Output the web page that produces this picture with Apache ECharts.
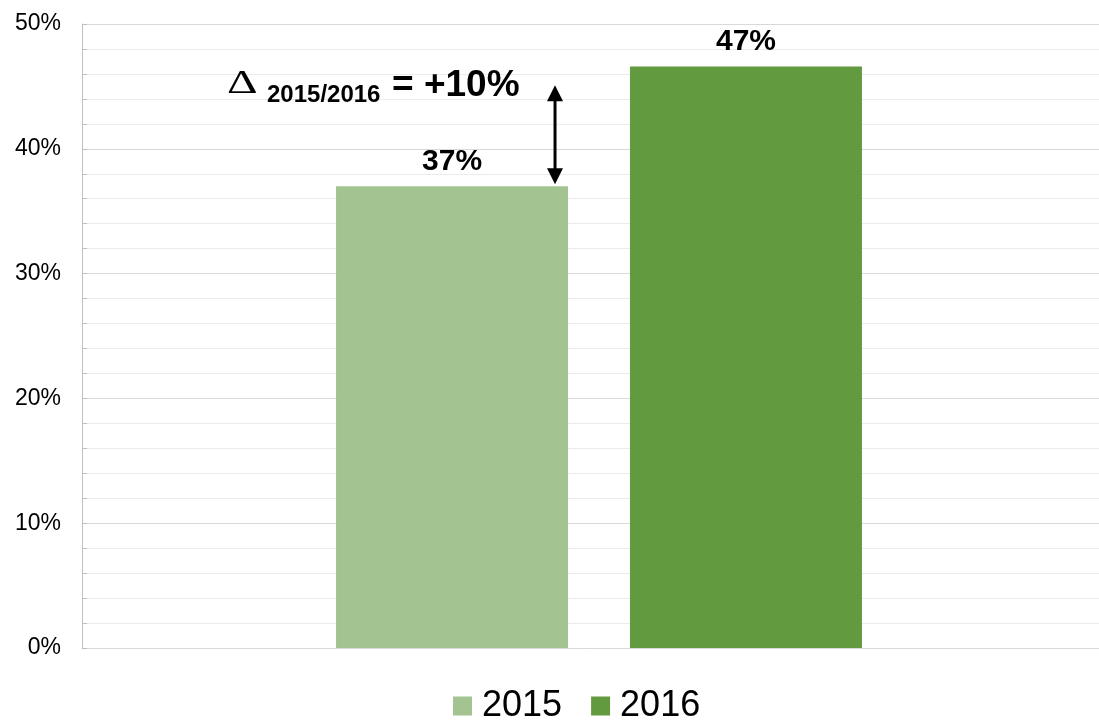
<!DOCTYPE html>
<html>
<head>
<meta charset="utf-8">
<script src="https://cdn.jsdelivr.net/npm/echarts@6/dist/echarts.min.js"></script>
<style>
  html, body { margin: 0; padding: 0; background: #fff; }
  #chart { width: 1099px; height: 721px; }
</style>
</head>
<body>
<div id="chart"></div>
<script>
// data
var years = ["2015", "2016"];
var shares = [37, 46.6];
var barColors = ["#a3c490", "#629b3f"];
var categories = [""];
var deltaFrom = 37;    // arrow bottom (value)
var deltaTo = 45.1;    // arrow top (value)

var font = "'Liberation Sans', Arial, sans-serif";

var chartDom = document.getElementById("chart");
var myChart = echarts.init(chartDom);

var series = years.map(function (y, i) {
  return {
    name: y,
    type: "bar",
    data: [shares[i]],
    barWidth: 232,
    barGap: "26.7%",
    itemStyle: { color: barColors[i] },
    label: {
      show: true,
      position: "top",
      distance: 10,
      formatter: function (p) { return Math.round(p.value) + "%"; },
      fontFamily: font,
      fontSize: 30,
      fontWeight: "bold",
      color: "#000",
    },
  };
});

var option = {
  animation: false,
  backgroundColor: "#fff",
  grid: {
    left: 82,
    right: -17,
    top: 24,
    bottom: 73,
    outerBoundsMode: "none",
  },
  legend: {
    data: years,
    left: 453,
    top: 688,
    padding: 0,
    icon: "rect",
    itemWidth: 19,
    itemHeight: 19,
    itemGap: 29,
    textStyle: { fontFamily: font, fontSize: 36, color: "#000", padding: [0, 0, 0, 5] },
  },
  xAxis: {
    type: "category",
    data: categories,
    axisLine: { lineStyle: { color: "#d9d9d9", width: 1 } },
    axisTick: { show: false },
    axisLabel: { show: false },
  },
  yAxis: {
    type: "value",
    min: 0,
    max: 50,
    interval: 10,
    axisLine: { show: true, lineStyle: { color: "#bfbfbf" } },
    axisTick: { show: true, inside: true, length: 5, lineStyle: { color: "#bfbfbf" } },
    minorTick: { show: true, splitNumber: 5, length: 5, lineStyle: { color: "#bfbfbf" } },
    splitLine: { show: true, lineStyle: { color: "#d9d9d9", width: 1 } },
    minorSplitLine: { show: true, lineStyle: { color: "#ebebeb", width: 1 } },
    axisLabel: {
      formatter: "{value}%",
      fontFamily: font,
      fontSize: 23,
      color: "#000",
      margin: 21,
    },
  },
  series: series,
};
myChart.setOption(option);

// annotation: arrow between the two bar heights, placed from the bar layout
var lay = myChart.getModel().getSeriesByIndex(0).getData().getItemLayout(0);
var ax = lay.x + lay.width - 13;
var yTop = myChart.convertToPixel({ gridIndex: 0 }, [0, deltaTo])[1];
var yBot = myChart.convertToPixel({ gridIndex: 0 }, [0, deltaFrom])[1] - 2;
var head = 16;

myChart.setOption({
  graphic: [
    {
      type: "line",
      shape: { x1: ax, y1: yTop + head - 2, x2: ax, y2: yBot - head + 2 },
      style: { stroke: "#000", lineWidth: 3 },
    },
    {
      type: "polygon",
      shape: { points: [[ax, yTop], [ax - 8, yTop + head], [ax + 8, yTop + head]] },
      style: { fill: "#000" },
    },
    {
      type: "polygon",
      shape: { points: [[ax, yBot], [ax - 8, yBot - head], [ax + 8, yBot - head]] },
      style: { fill: "#000" },
    },
    {
      type: "text",
      x: 227,
      y: 101,
      scaleX: 1.4,
      style: { text: "\u0394", font: "34px 'Liberation Serif', 'Times New Roman', serif", fill: "#000", verticalAlign: "bottom" },
    },
    {
      type: "text",
      x: 267,
      y: 107,
      style: { text: "2015/2016", font: "bold 24px " + font, fill: "#000", verticalAlign: "bottom" },
    },
    {
      type: "text",
      x: 392,
      y: 104,
      style: { text: "= +10%", font: "bold 37px " + font, fill: "#000", verticalAlign: "bottom" },
    },
  ],
});
</script>
</body>
</html>
